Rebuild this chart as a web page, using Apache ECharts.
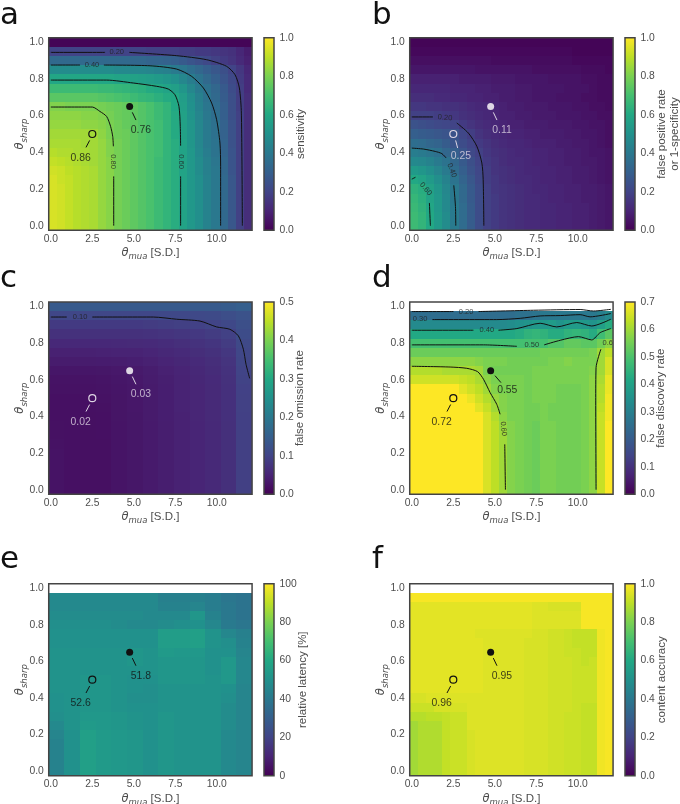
<!DOCTYPE html>
<html><head><meta charset="utf-8">
<script src="https://cdn.jsdelivr.net/npm/echarts@6/dist/echarts.min.js"></script>
<style>html,body{margin:0;background:#fff}#c{width:680px;height:804px}</style></head>
<body><div id="c"></div>
<script>
const viridis=['#440154','#482475','#414487','#355f8d','#2a788e','#21918c','#22a884','#44bf70','#7ad151','#bddf26','#fde725'];
const xTicks=[0,2.5,5,7.5,10];
// rows run from theta_sharp=1.0 (first) to 0.0 (last); null = no data
const valuesA=[
[1,1,1,1,1,1,1,1,1,1,1,1,1,1,1,1,1,1,1,1,1,1,1,1,1],
[20,20,20,20,20,20,20,20,20,20,20,20,19,19,19,19,18,18,17,17,16,15,14,11,8],
[34,34,34,34,34,34,34,34,34,34,33,33,32,32,31,30,28,26,24,22,19,17,15,12,9],
[48,48,48,48,48,48,48,48,47,47,46,46,45,44,43,41,39,36,33,30,27,24,20,16,11],
[59,59,59,59,59,59,59,59,58,58,57,56,55,54,52,50,46,42,38,34,30,26,22,17,12],
[68,68,68,68,68,68,67,67,66,65,64,63,61,60,58,56,52,46,41,37,33,28,23,18,12],
[74,74,74,74,74,74,73,72,71,70,68,66,65,63,61,60,55,49,43,38,34,29,24,18,13],
[81,81,80,80,80,80,79,78,77,76,75,73,71,68,65,60,56,50,44,39,35,30,24,18,13],
[83,83,83,83,82,82,81,79,77,76,75,73,71,68,65,61,57,51,45,40,36,30,24,19,13],
[84,84,84,84,83,83,82,80,78,76,75,73,71,69,65,61,57,52,46,41,37,31,25,19,13],
[86,86,86,86,86,86,83,80,78,77,75,73,71,69,65,61,57,52,46,41,37,31,25,19,13],
[87,87,87,87,86,86,84,81,79,77,75,73,71,69,65,62,58,52,46,41,38,32,25,19,13],
[89,88,88,87,87,86,84,81,79,77,75,73,71,69,65,62,58,53,47,42,38,32,26,19,13],
[91,90,89,88,87,86,84,82,79,77,75,73,71,68,65,62,58,53,48,43,39,33,26,19,13],
[93,92,90,89,88,87,84,82,79,77,75,73,71,68,65,62,58,53,48,43,40,33,26,19,13],
[94,92,91,89,88,87,84,82,79,77,75,73,71,68,65,62,58,53,49,44,40,34,27,19,13],
[94,93,91,89,88,87,84,82,79,77,75,73,71,68,65,62,58,53,49,44,40,34,27,19,13],
[94,93,91,89,88,87,84,82,79,77,75,73,71,68,65,62,58,53,49,44,40,34,27,19,13],
[94,93,91,89,88,87,84,82,79,77,75,73,71,68,65,62,58,53,49,44,40,34,27,19,13],
[94,93,91,89,88,87,84,82,79,77,75,73,71,68,65,62,58,53,49,44,40,34,27,19,13],
[94,93,91,89,88,87,84,82,79,77,75,73,71,68,65,62,58,53,49,44,40,34,27,19,13]];
const valuesB=[
[1,1,1,1,1,1,1,1,1,1,1,1,1,1,1,1,1,1,1,1,1,1,1,1,1],
[2,2,2,2,2,2,2,2,2,2,2,2,2,2,2,2,2,2,2,2,1,1,1,1,1],
[4,4,4,4,4,4,4,4,4,4,3,3,3,3,3,3,3,3,3,3,2,2,2,2,2],
[6,6,6,6,6,6,6,6,5,5,5,5,5,5,5,4,4,4,4,4,4,3,3,3,2],
[9,9,9,9,9,9,8,8,8,8,7,7,7,6,6,6,6,5,5,5,5,4,4,3,3],
[11,11,11,11,11,10,10,10,9,9,8,8,8,7,7,6,6,6,6,5,5,5,4,3,3],
[13,13,13,12,12,11,11,10,10,9,9,8,8,7,7,6,6,6,5,5,5,4,4,3,3],
[16,16,15,15,14,14,13,12,11,11,10,9,8,8,7,7,7,6,6,6,5,5,4,4,3],
[19,19,19,18,17,16,14,13,12,11,10,9,9,8,8,7,7,7,6,6,6,5,5,4,4],
[25,24,23,22,21,20,17,15,13,12,11,10,9,9,8,8,8,7,7,7,6,6,5,5,4],
[30,29,28,27,26,25,21,18,15,13,12,11,10,10,9,9,8,8,8,7,7,6,6,5,4],
[36,35,33,32,29,26,23,20,17,15,13,12,11,11,10,9,9,9,8,8,7,7,6,5,4],
[42,41,39,37,33,30,26,22,19,16,14,13,12,11,11,10,10,9,9,8,8,7,6,6,5],
[47,46,44,41,38,33,28,24,20,17,15,13,12,12,11,10,10,9,9,8,8,7,7,6,5],
[54,52,49,45,41,35,30,25,21,18,15,14,13,12,11,11,10,10,9,9,8,8,7,6,5],
[60,58,54,49,44,38,32,27,22,18,16,14,13,12,12,11,10,10,9,9,8,8,7,6,5],
[64,62,57,52,46,40,34,28,23,19,16,15,14,13,12,11,11,10,10,9,9,8,8,7,6],
[66,63,58,53,47,40,34,28,23,19,17,15,14,13,12,12,11,10,10,9,9,8,8,7,6],
[67,64,59,53,47,41,35,29,23,19,17,15,14,13,12,12,11,11,10,10,9,9,8,7,6],
[68,65,60,54,48,41,35,29,23,19,17,15,14,13,12,12,11,11,10,10,9,9,8,7,6],
[68,65,60,54,48,41,35,29,23,19,17,15,14,13,12,12,11,11,10,10,9,9,8,7,6]];
const valuesC=[
[14,14,14,14,14,14,14,14,14,14,14,14.5,15],
[10.5,10.5,10.5,10.5,10.5,10.5,10.6,10.7,10.8,11,11.2,11.8,12.5],
[8.5,8.5,8.5,8.5,8.5,8.5,8.7,9,9.3,9.6,10,10.8,12],
[7,7,7,7,7,7,7.2,7.5,7.8,8.2,8.7,9.5,11.5],
[5.7,5.7,5.7,5.7,5.8,5.9,6,6.3,6.7,7.2,7.7,8.7,11],
[4.6,4.6,4.6,4.7,4.8,4.9,5.2,5.6,6,6.5,7,8,10.6],
[3.8,3.8,3.8,3.9,4,4.2,4.5,5,5.4,6,6.5,7.5,10.3],
[3,3,3,3.1,3.3,3.5,4,4.5,5,5.6,6.2,7.2,10],
[2.6,2.6,2.6,2.7,3,3.3,3.8,4.3,4.9,5.4,6,7,9.8],
[2.4,2.4,2.4,2.5,2.9,3.2,3.7,4.2,4.8,5.3,5.9,6.9,9.6],
[2.2,2.2,2.2,2.4,2.8,3.2,3.7,4.2,4.8,5.3,5.9,6.9,9.5],
[2.2,2.2,2.2,2.3,2.8,3.2,3.7,4.2,4.8,5.3,5.9,6.9,9.5],
[2.2,2.2,2.1,2.2,2.8,3.1,3.7,4.2,4.7,5.3,5.9,6.9,9.4],
[2.3,2.2,2.1,2.2,2.7,3.1,3.6,4.1,4.7,5.2,5.8,6.8,9.4],
[2.3,2.2,2.1,2.2,2.7,3.1,3.6,4.1,4.7,5.2,5.8,6.8,9.3],
[2.4,2.2,2.1,2.1,2.7,3.1,3.6,4.1,4.7,5.2,5.8,6.8,9.3],
[2.5,2.2,2.1,2.1,2.7,3.1,3.6,4.1,4.7,5.2,5.8,6.8,9.3],
[2.6,2.2,2.1,2.1,2.7,3.1,3.6,4.1,4.7,5.2,5.8,6.8,9.3],
[2.6,2.2,2.1,2.1,2.7,3.1,3.6,4.1,4.7,5.2,5.8,6.8,9.3],
[2.6,2.2,2.1,2.1,2.7,3.1,3.6,4.1,4.7,5.2,5.8,6.8,9.3],
[2.6,2.2,2.1,2.1,2.7,3.1,3.6,4.1,4.7,5.2,5.8,6.8,9.3]];
const valuesD=[
[null,null,null,null,null,null,null,null,null,null,null,null,null,null,null,null,null,null,null,null,null,null,null,null,null],
[25,25,25,25,25,25,25,25,25,25,25,25,25,26,26,27,28,28,28,28,28,28,28,30,33],
[33,33,33,33,33,33,33,33,33,33,33,33,34,35,36,37,37,38,36,38,38,37,36,39,43],
[42,42,42,42,42,42,42,42,42,42,42,42,42,43,45,46,45,43,43,45,46,45,43,48,52],
[49,49,49,49,49,49,49,49,49,49,49,49,49,49,49,49,49,51,51,53,53,52,52,55,58],
[54,54,54,54,54,54,54,54,54,54,54,54,54,54,54,54,55,55,55,55,55,55,56,60,63],
[58,58,58,58,58,58,58,58,57,56,56,56,55,55,55,55,55,56,56,57,56,56,56,60,66],
[62,62,62,62,61,61,61,61,60,56,55,55,55,55,55,56,56,56,56,56,56,56,57,60,66],
[65,65,65,65,65,65,64,63,61,58,56,56,56,56,55,56,56,56,56,56,56,56,58,61,68],
[70,70,70,70,70,70,67,65,63,60,57,56,56,56,55,56,56,56,55,55,55,56,58,62,68],
[70,70,70,70,70,70,70,68,65,62,59,57,56,56,55,56,56,56,55,55,55,56,58,62,69],
[70,70,70,70,70,70,70,70,67,64,60,57,56,56,55,55,56,55,55,55,55,56,58,63,69],
[70,70,70,70,70,70,70,70,70,66,62,58,56,56,55,55,56,55,55,55,55,56,58,64,69],
[70,70,70,70,70,70,70,70,70,66,63,59,57,56,55,54,56,56,55,55,55,56,58,64,70],
[70,70,70,70,70,70,70,70,70,66,63,60,57,56,55,54,56,56,55,55,55,56,58,64,70],
[70,70,70,70,70,70,70,70,70,66,63,60,57,56,55,54,56,56,55,55,55,56,58,64,70],
[70,70,70,70,70,70,70,70,70,66,63,60,57,56,55,54,56,56,55,55,55,56,58,64,70],
[70,70,70,70,70,70,70,70,70,66,63,60,57,56,55,54,56,56,55,55,55,56,58,64,70],
[70,70,70,70,70,70,70,70,70,66,63,60,57,56,55,54,56,56,55,55,55,56,58,64,70],
[70,70,70,70,70,70,70,70,70,66,63,60,57,56,55,54,56,56,55,55,55,56,58,64,70],
[70,70,70,70,70,70,70,70,70,66,63,60,57,56,55,54,56,56,55,55,55,56,58,64,70]];
const valuesE=[
[null,null,null,null,null,null,null,null,null,null,null,null,null],
[47,47,47,47,47,47,47,43,43,43,42,39,38],
[47,47,47,47,47,47,47,44,44,45,42,40,38],
[48,48,48,48,48,48,47,47,47,52,44,40,38],
[49,49,49,49,48,47,47,48,49,50,46,41,39],
[50,50,50,50,50,50,50,55,55,56,51,46,43],
[50,50,50,50,50,50,50,55,55,56,51,49,44],
[51,51,51,51,51,52,51,54,53,53,50,50,45],
[51,51,51,51,51,52,51,52,52,52,50,53,46],
[51,51,51,51,51,51,51,52,52,52,50,53,46],
[51,51,52,52,51,50,50,52,52,52,51,53,46],
[51,51,52,52,51,50,49,51,51,51,51,50,45],
[50,51,52,52,51,49,49,51,51,51,51,49,45],
[50,51,52,52,51,50,50,51,51,51,51,48,45],
[49,51,53,53,52,51,50,52,51,51,51,48,45],
[47,51,54,53,52,51,50,52,51,51,51,48,45],
[45,50,56,54,53,52,50,52,51,51,51,47,45],
[44,50,56,54,53,52,50,52,51,51,51,47,45],
[44,50,56,54,53,52,50,52,51,51,51,47,45],
[44,50,56,54,53,52,50,52,51,51,51,47,45],
[44,50,56,54,53,52,50,52,51,51,51,47,45]];
const valuesF=[
[null,null,null,null,null,null,null,null,null,null,null,null,null,null,null,null,null,null,null,null,null,null,null,null,null],
[99,99,99,99,99,99,99,99,99,99,99,99,99,99,99,99,99,99,99,99,99,99,99,99,99],
[96,96,96,96,96,96,96,96,96,96,96,96,96,96,96,95,95,94,94,94,94,99,99,99,99],
[96,96,96,96,96,96,96,96,96,96,96,96,96,96,96,95,95,95,95,95,95,99,99,99,99],
[96,96,96,96,96,96,96,96,96,96,96,96,96,96,96,95,95,95,95,95,95,99,99,99,99],
[96,96,96,96,96,96,96,96,95,95,95,95,95,95,95,94,94,93,93,92,91,91,91,98,99],
[96,96,96,96,96,96,96,96,96,95,95,95,95,95,94,94,94,93,93,92,91,91,91,98,99],
[96,96,96,96,96,96,96,96,96,95,95,95,95,95,94,94,94,93,93,92,92,91,91,98,99],
[96,96,96,96,96,96,96,96,96,95,95,95,95,95,94,94,94,93,93,93,92,91,92,98,99],
[96,96,96,96,96,96,96,96,96,95,95,95,95,95,94,94,94,93,93,93,92,92,92,98,99],
[96,96,96,96,96,96,96,96,96,95,95,95,95,95,94,94,94,93,93,93,92,92,92,98,99],
[96,96,96,96,96,96,96,96,96,95,95,95,95,95,94,94,94,93,93,93,92,92,92,98,99],
[94,94,95,95,95,95,95,95,95,95,95,95,95,95,94,94,94,93,93,93,92,92,92,98,99],
[92,92,92,94,94,94,94,95,95,95,95,95,95,95,94,94,94,93,93,93,92,91,91,98,99],
[89,89,90,90,91,92,92,95,95,95,95,95,95,95,94,94,94,93,93,92,92,91,91,98,99],
[86,88,88,88,91,92,92,95,95,95,95,95,95,95,94,94,94,93,93,92,92,91,91,98,99],
[86,88,88,88,91,92,92,94,95,95,95,95,95,95,94,94,94,93,93,92,92,91,91,98,99],
[86,88,88,88,91,92,92,94,95,95,95,95,95,95,94,94,94,93,93,92,92,91,91,98,99],
[86,88,88,88,91,92,92,94,95,95,95,95,95,95,94,94,94,93,93,92,92,91,91,98,99],
[86,88,88,88,91,92,92,94,95,95,95,95,95,95,94,94,94,93,93,92,92,91,91,98,99],
[86,88,88,88,91,92,92,94,95,95,95,95,95,95,94,94,94,93,93,92,92,91,91,98,99]];
const contoursA=[
[[0,.647],[2.5,.647],[2.96,.623],[3.36,.596],[3.6,.542],[3.73,.487],[3.77,.433]],[[3.79,.269],[3.79,0]],
[[0,.794],[3.36,.794],[4.97,.778],[6.38,.76],[7.08,.745],[7.48,.714],[7.72,.651],[7.8,.542],[7.82,.436]],[[7.82,.269],[7.82,0]],
[[0,.876],[1.76,.876]],[[3.2,.876],[5.98,.872],[7.58,.854],[8.49,.814],[9.19,.751],[9.69,.669],[9.99,.578],[10.19,.451],[10.23,.324],[10.23,0]],
[[0,.945],[3.27,.945]],[[4.73,.945],[7.58,.927],[9.39,.905],[10.59,.869],[11.1,.823],[11.36,.751],[11.48,.614],[11.54,0]]];
const contoursB=[
[[0,.593],[1.27,.593]],[[2.71,.56],[3.41,.505],[3.92,.433],[4.22,.342],[4.3,.251],[4.34,0]],
[[0,.423],[.7,.418],[1.41,.405],[1.81,.393],[2.07,.369]],[[2.53,.22],[2.63,.105],[2.65,0]],
[[0,.254],[.22,.264]],[[1.06,.124],[1.12,0]]];
const contoursC=[
[[0,.943],[.96,.943]],[[2.5,.943],[6.18,.943],[7.58,.931],[8.99,.921],[9.99,.889],[10.79,.876],[11.3,.84],[11.6,.767],[11.76,.685],[11.98,.608]]];
const contoursD=[
[[0,.973],[2.51,.973]],[[4.02,.973],[7.33,.98],[10.14,.984],[10.94,.976],[11.99,.985]],
[[1.24,.929],[5.12,.929],[6.53,.936],[7.73,.949],[8.94,.951],[10.14,.956],[10.74,.944],[11.99,.962]],
[[0,.871],[3.71,.871]],[[5.22,.871],[6.33,.88],[7.73,.909],[8.73,.889],[9.94,.913],[10.84,.894],[11.99,.931]],
[[0,.791],[4.32,.791],[6.33,.783]],[[7.97,.791],[8.94,.816],[10.04,.836],[10.84,.818],[11.35,.858],[11.99,.88]],
[[0,.674],[2.31,.67],[3.31,.663],[3.96,.645],[4.32,.603],[4.72,.53],[5.12,.466],[5.32,.412]],[[5.6,.248],[5.64,0]],
[[11.1,0],[11.08,.485],[11.1,.667],[11.39,.767]]];
const contourLabelsA=[[3.78,.35,'0.80',-90],[7.82,.35,'0.60',-90],[2.48,.876,'0.40',0],[3.97,.945,'0.20',0]];
const contourLabelsB=[[2.0,.589,'0.20',-5],[2.41,.302,'0.40',-70],[.84,.2,'0.60',-50]];
const contourLabelsC=[[1.76,.943,'0.10',0]];
const contourLabelsD=[[3.27,.973,'0.20',0],[.5,.931,'0.30',0],[4.52,.871,'0.40',0],[7.23,.79,'0.50',0],[5.52,.333,'0.60',-85],[11.8,.803,'0.6',0]];
const markerOpen=[2.5,.5], markerFilled=[4.75,.65];
const leadersA=[[[2.34,.465],[2.12,.427]],[[4.91,.618],[5.13,.576]]];
const leadersB=[[[2.64,.465],[2.76,.424]],[[4.91,.618],[5.13,.576]]];
const leadersD=[[[2.34,.465],[2.12,.427]],[[5.01,.623],[5.37,.585]]];
const notesA=[[1.8,.369,'0.86'],[5.43,.52,'0.76']];
const notesB=[[2.96,.382,'0.25'],[5.43,.52,'0.11']];
const notesC=[[1.8,.369,'0.02'],[5.43,.52,'0.03']];
const notesD=[[1.8,.369,'0.72'],[5.75,.545,'0.55']];
const notesE=[[1.8,.369,'52.6'],[5.43,.52,'51.8']];
const notesF=[[1.8,.369,'0.96'],[5.43,.52,'0.95']];
const panels=[
 {letter:'a',col:0,row:0,values:valuesA,contours:contoursA,labels:contourLabelsA,leaders:leadersA,notes:notesA,max:100,step:20,dec:1,div:100,title:'sensitivity',gap:21,ink:'#111'},
 {letter:'b',col:1,row:0,values:valuesB,contours:contoursB,labels:contourLabelsB,leaders:leadersB,notes:notesB,max:100,step:20,dec:1,div:100,title:'false positive rate\nor 1-specificity',gap:21,ink:'#ded6e4'},
 {letter:'c',col:0,row:1,values:valuesC,contours:contoursC,labels:contourLabelsC,leaders:leadersA,notes:notesC,max:50,step:10,dec:1,div:100,title:'false omission rate',gap:20,ink:'#ded6e4'},
 {letter:'d',col:1,row:1,values:valuesD,contours:contoursD,labels:contourLabelsD,leaders:leadersD,notes:notesD,max:70,step:10,dec:1,div:100,title:'false discovery rate',gap:20,ink:'#111'},
 {letter:'e',col:0,row:2,values:valuesE,contours:[],labels:[],leaders:leadersA,notes:notesE,max:100,step:20,dec:0,div:1,title:'relative latency [%]',gap:23,ink:'#111'},
 {letter:'f',col:1,row:2,values:valuesF,contours:[],labels:[],leaders:leadersA,notes:notesF,max:100,step:20,dec:1,div:100,title:'content accuracy',gap:21,ink:'#111'}];
const colX=[50.8,411.8], barX=[264,625], rowTop=[42.3,306.6,588.2], rowH=[183.4,183.1,182.9], frameTop=[37.7,302,583.7], frameH=[192.6,192.3,192], letterX=[0,372], letterBase=[25,288,569];
const W=199.2, tick='#4d4d4d', sans='"Liberation Sans",Arial,sans-serif';
const richAxis={th:{fontFamily:'DejaVu Sans',fontStyle:'italic',fontSize:11.5,color:tick,lineHeight:17},
 sub:{fontFamily:'DejaVu Sans',fontStyle:'italic',fontSize:8.5,color:tick,verticalAlign:'bottom',lineHeight:17},
 r:{fontFamily:sans,fontSize:11.5,color:tick,lineHeight:17}};
const opt={animation:false,backgroundColor:'#fff',grid:[],xAxis:[],yAxis:[],series:[],visualMap:[],graphic:[]};
panels.forEach((p,i)=>{
 const g=i*2,cb=i*2+1,top=rowTop[p.row],h=rowH[p.row];
 opt.grid.push({left:colX[p.col],top:top,width:W,height:h,outerBoundsMode:'none'});
 opt.grid.push({left:barX[p.col],top:frameTop[p.row],width:10,height:frameH[p.row],outerBoundsMode:'none',show:true,borderColor:'#444',borderWidth:1.5,z:8,backgroundColor:'transparent'});
 opt.xAxis.push({gridIndex:g,type:'value',min:0,max:12,interval:2.5,axisLine:{show:false},axisTick:{show:false},splitLine:{show:false},
  axisLabel:{color:tick,fontFamily:sans,fontSize:10.3,margin:8.5,showMaxLabel:false,formatter:v=>xTicks.includes(v)?v.toFixed(1):''},
  name:'{th|θ}{sub|mua}{r| [S.D.]}',nameLocation:'middle',nameGap:19,nameMoveOverlap:false,nameTextStyle:{rich:richAxis}});
 opt.yAxis.push({gridIndex:g,type:'value',min:0,max:1,interval:.2,axisLine:{show:false},axisTick:{show:false},splitLine:{show:false},
  axisLabel:{color:tick,fontFamily:sans,fontSize:10.3,margin:7,formatter:v=>v.toFixed(1)},
  name:'{th|θ}{sub|sharp}',nameLocation:'middle',nameRotate:90,nameGap:22,nameMoveOverlap:false,nameTextStyle:{rich:richAxis}});
 opt.xAxis.push({gridIndex:cb,type:'value',min:0,max:1,show:false});
 opt.yAxis.push({gridIndex:cb,type:'value',position:'right',min:0,max:p.max,interval:p.step,axisLine:{show:false},axisTick:{show:false},splitLine:{show:false},
  axisLabel:{color:tick,fontFamily:sans,fontSize:10.3,margin:5.5,formatter:v=>(v/p.div).toFixed(p.dec)},
  name:p.title,nameLocation:'middle',nameRotate:90,nameGap:p.gap,nameMoveOverlap:false,nameTextStyle:{color:tick,fontFamily:sans,fontSize:11.5,lineHeight:12.6}});
 // cells
 const cells=[];
 p.values.forEach((r,ri)=>{const yc=1-ri*0.05,dx=12.25/r.length;r.forEach((v,ci)=>{if(v!==null)cells.push([-.125+ci*dx,yc-.025,-.125+(ci+1)*dx,yc+.025,v]);});});
 const si=opt.series.length;
 opt.series.push({type:'custom',xAxisIndex:g,yAxisIndex:g,data:cells,clip:false,silent:true,z:1,progressive:0,dimensions:['x0','y0','x1','y1','v'],
  encode:{x:[0,2],y:[1,3]},
  renderItem:(params,api)=>{const a=api.coord([api.value(0),api.value(1)]),b=api.coord([api.value(2),api.value(3)]);const c=api.visual('color');
   const x0=Math.round(a[0]),x1=Math.round(b[0]),y0=Math.round(b[1]),y1=Math.round(a[1]);
   return{type:'rect',shape:{x:x0,y:y0,width:x1-x0,height:y1-y0},style:{fill:c,stroke:null}};}});
 opt.visualMap.push({type:'continuous',show:false,seriesIndex:si,dimension:4,min:0,max:p.max,inRange:{color:viridis}});
 p.contours.forEach(seg=>opt.series.push({type:'line',xAxisIndex:g,yAxisIndex:g,data:seg,symbol:'none',silent:true,z:5,smooth:.25,lineStyle:{color:'#111',width:1}}));
 if(p.labels.length)opt.series.push({type:'scatter',xAxisIndex:g,yAxisIndex:g,symbolSize:0,silent:true,z:6,
  data:p.labels.map(l=>({value:[l[0],l[1],l[2]],label:{rotate:l[3]}})),
  label:{show:true,position:'inside',color:'#222',fontFamily:sans,fontSize:7.5,formatter:o=>o.value[2]}});
 p.leaders.forEach(seg=>opt.series.push({type:'line',xAxisIndex:g,yAxisIndex:g,data:seg,symbol:'none',silent:true,z:6,lineStyle:{color:p.ink,width:1}}));
 opt.series.push({type:'scatter',xAxisIndex:g,yAxisIndex:g,data:[markerOpen],symbolSize:7,silent:true,z:7,itemStyle:{color:'rgba(0,0,0,0)',borderColor:p.ink,borderWidth:1.2,opacity:1}});
 opt.series.push({type:'scatter',xAxisIndex:g,yAxisIndex:g,data:[markerFilled],symbolSize:7,silent:true,z:7,itemStyle:{color:p.ink,opacity:1}});
 opt.series.push({type:'scatter',xAxisIndex:g,yAxisIndex:g,data:p.notes,symbolSize:0,silent:true,z:7,
  label:{show:true,position:'inside',color:p.ink,fontFamily:sans,fontSize:10.4,formatter:o=>o.value[2]}});
 // frame around the full cell range
 opt.series.push({type:'custom',xAxisIndex:g,yAxisIndex:g,data:[[-.125,-.025,12.125,1.025]],clip:false,silent:true,z:9,encode:{x:[0,2],y:[1,3]},
  renderItem:(params,api)=>{const a=api.coord([api.value(0),api.value(1)]),b=api.coord([api.value(2),api.value(3)]);
   return{type:'rect',shape:{x:a[0],y:b[1],width:b[0]-a[0],height:a[1]-b[1]},style:{fill:'none',stroke:'#444',lineWidth:1.5}};}});
 // colour bar
 opt.series.push({type:'custom',xAxisIndex:cb,yAxisIndex:cb,data:[[0,0,1,p.max]],clip:false,silent:true,z:1,encode:{x:[0,2],y:[1,3]},
  renderItem:(params,api)=>{const a=api.coord([api.value(0),api.value(1)]),b=api.coord([api.value(2),api.value(3)]);
   return{type:'rect',shape:{x:a[0],y:b[1],width:b[0]-a[0],height:a[1]-b[1]},
    style:{fill:new echarts.graphic.LinearGradient(0,1,0,0,viridis.map((c,k)=>({offset:k/10,color:c})))}};}});
 opt.graphic.push({type:'text',left:letterX[p.col],top:letterBase[p.row]-25,style:{text:p.letter,font:'31px "DejaVu Sans"',fill:'#111'}});
});
const chart=echarts.init(document.getElementById('c'),null,{renderer:'canvas'});
chart.setOption(opt);
</script></body></html>
